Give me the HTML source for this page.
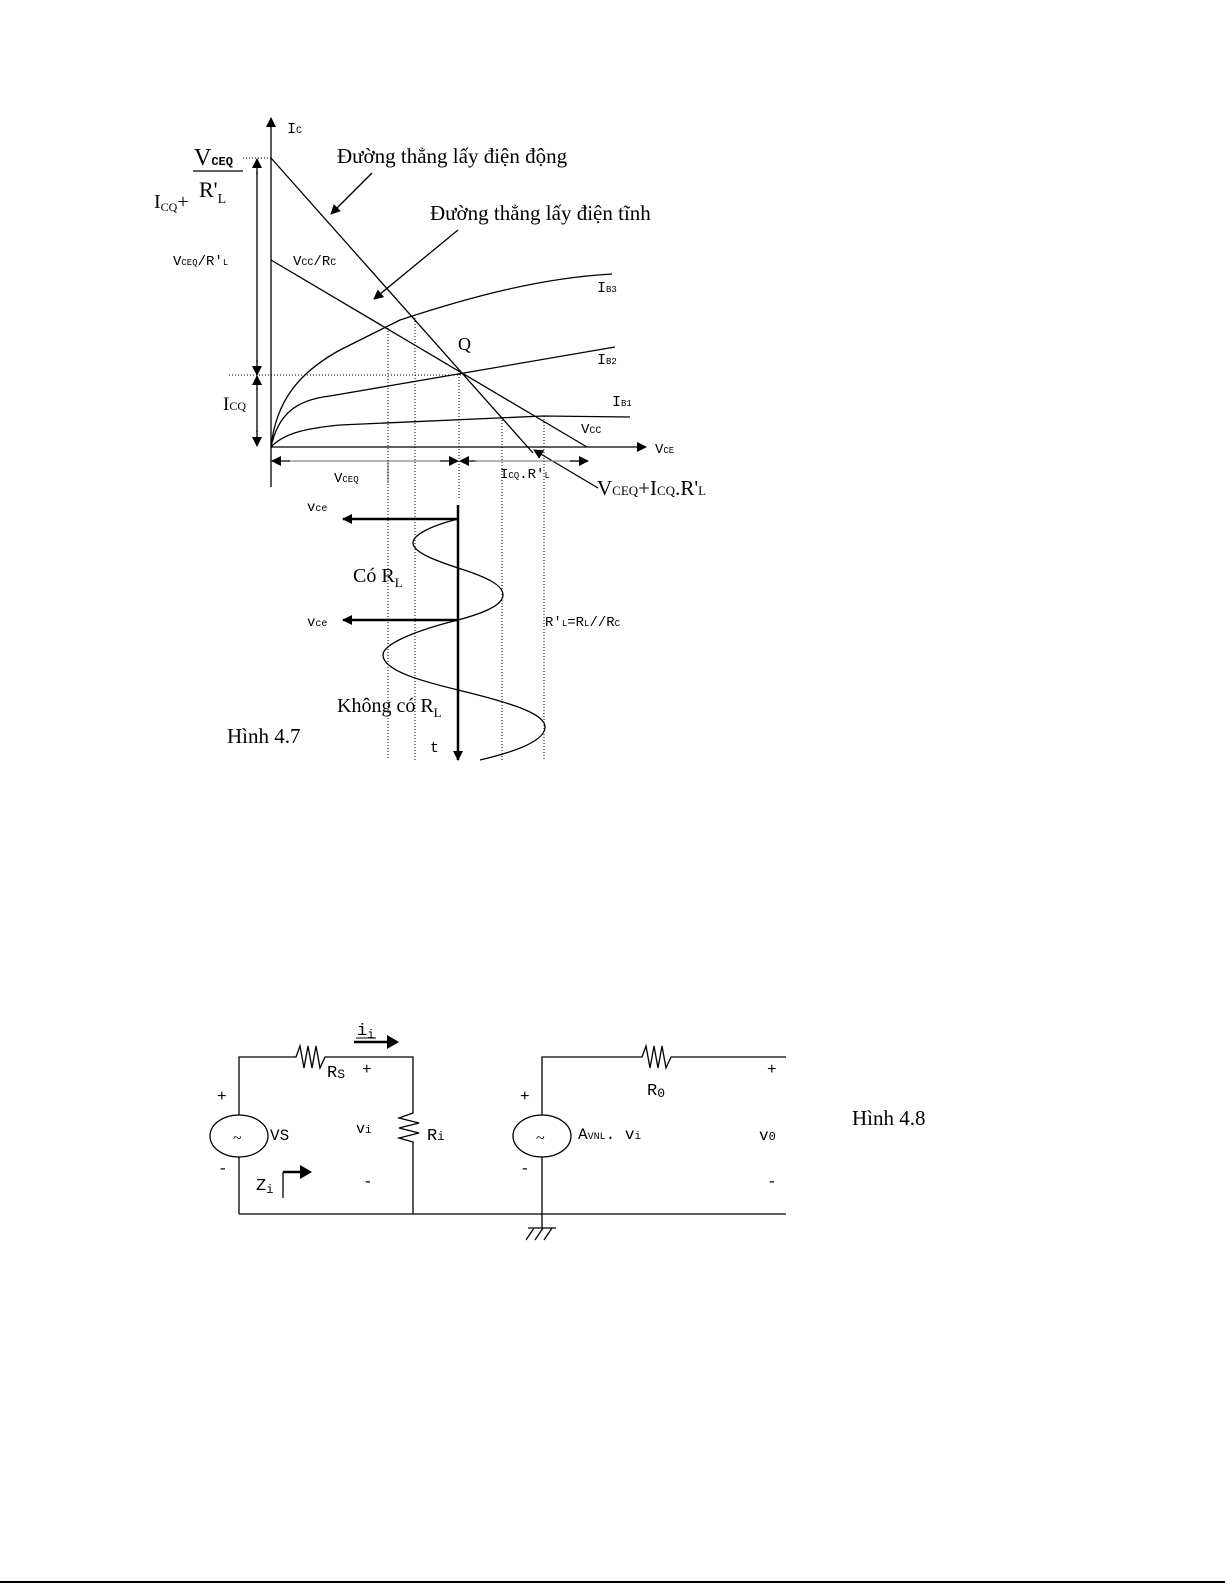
<!DOCTYPE html>
<html><head><meta charset="utf-8"><style>
body{margin:0;background:#fff}
svg{display:block}
text{font-family:"Liberation Serif",serif;fill:#000}
.m{font-family:"Liberation Mono",monospace}
</style></head><body>
<svg width="1225" height="1585" viewBox="0 0 1225 1585" xmlns="http://www.w3.org/2000/svg">
<defs>
<marker id="a" markerWidth="10" markerHeight="10" refX="9" refY="5" orient="auto" markerUnits="userSpaceOnUse"><path d="M0,0 L10,5 L0,10 z" fill="#000"/></marker>
</defs>
<g stroke="#000" fill="none" stroke-width="1.3">
<line x1="271" y1="487" x2="271" y2="118" marker-end="url(#a)"/>
<line x1="271" y1="447" x2="646" y2="447" marker-end="url(#a)"/>
<line x1="271" y1="158" x2="533" y2="453"/>
<line x1="271" y1="260" x2="587" y2="447"/>
<path d="M271,447 C276,400 300,372 340,350 L400,320 C470,297 540,278 612,274"/>
<path d="M271,447 C278,415 295,400 330,396 L615,347"/>
<path d="M271,447 C285,432 310,428 340,425 L543,416 L630,417"/>
<line x1="372" y1="173" x2="331" y2="214" marker-end="url(#a)"/>
<line x1="458" y1="230" x2="374" y2="299" marker-end="url(#a)"/>
<line x1="598" y1="488" x2="534" y2="450" marker-end="url(#a)"/>
<line x1="257" y1="172" x2="257" y2="362"/>
<line x1="257" y1="388" x2="257" y2="432"/>
<line x1="257" y1="175" x2="257" y2="159" marker-end="url(#a)"/>
<line x1="257" y1="360" x2="257" y2="375" marker-end="url(#a)"/>
<line x1="257" y1="390" x2="257" y2="376" marker-end="url(#a)"/>
<line x1="257" y1="430" x2="257" y2="446" marker-end="url(#a)"/>
<line x1="288" y1="461" x2="440" y2="461" stroke="#888"/>
<line x1="290" y1="461" x2="272" y2="461" marker-end="url(#a)"/>
<line x1="440" y1="461" x2="458" y2="461" marker-end="url(#a)"/>
<line x1="478" y1="461" x2="460" y2="461" marker-end="url(#a)"/>
<line x1="475" y1="461" x2="588" y2="461" stroke="#888"/>
<line x1="570" y1="461" x2="588" y2="461" marker-end="url(#a)"/>
<line x1="388" y1="461" x2="388" y2="483" stroke="#888"/>
<line x1="458" y1="505" x2="458" y2="760" stroke-width="2.5" marker-end="url(#a)"/>
<line x1="458" y1="519" x2="343" y2="519" stroke-width="2.5" marker-end="url(#a)"/>
<line x1="458" y1="620" x2="343" y2="620" stroke-width="2.5" marker-end="url(#a)"/>
<path d="M458,519 C430,526 413,535 413,543 C413,553 440,562 458,568 C490,578 503,586 503,595 C503,606 480,614 458,620 C410,632 383,645 383,655 C383,672 430,683 458,690 C520,705 545,715 545,727 C545,742 510,753 480,760"/>
</g>
<g stroke="#000" stroke-width="1" stroke-dasharray="1,2" fill="none">
<line x1="243" y1="158" x2="271" y2="158"/>
<line x1="229" y1="375" x2="463" y2="375"/>
<line x1="388" y1="328" x2="388" y2="760"/>
<line x1="415" y1="318" x2="415" y2="760"/>
<line x1="459" y1="374" x2="459" y2="500"/>
<line x1="502" y1="417" x2="502" y2="760"/>
<line x1="544" y1="416" x2="544" y2="760"/>
</g>
<line x1="193" y1="171" x2="243" y2="171" stroke="#000" stroke-width="1.3"/>
<text x="287" y="133" class="m" font-size="15">I<tspan font-size="10">C</tspan></text>
<text x="194" y="165" font-size="24">V<tspan font-size="12" font-weight="bold" class="m">CEQ</tspan></text>
<text x="199" y="197" font-size="22">R'<tspan font-size="14" dy="6">L</tspan></text>
<text x="154" y="208" font-size="20">I<tspan font-size="12" dy="3">CQ</tspan><tspan dy="-3">+</tspan></text>
<text x="337" y="163" font-size="21">Đường thẳng lấy điện động</text>
<text x="430" y="220" font-size="21">Đường thẳng lấy điện tĩnh</text>
<text x="173" y="265" class="m" font-size="14">V<tspan font-size="9">CEQ</tspan>/R'<tspan font-size="9">L</tspan></text>
<text x="293" y="265" class="m" font-size="14">V<tspan font-size="10">CC</tspan>/R<tspan font-size="10">C</tspan></text>
<text x="597" y="292" class="m" font-size="15">I<tspan font-size="9">B3</tspan></text>
<text x="597" y="364" class="m" font-size="15">I<tspan font-size="9">B2</tspan></text>
<text x="612" y="406" class="m" font-size="15">I<tspan font-size="9">B1</tspan></text>
<text x="458" y="350" font-size="18">Q</text>
<text x="223" y="410" font-size="19">I<tspan font-size="12">CQ</tspan></text>
<text x="581" y="433" class="m" font-size="14">V<tspan font-size="10">CC</tspan></text>
<text x="655" y="453" class="m" font-size="14">V<tspan font-size="9">CE</tspan></text>
<text x="334" y="482" class="m" font-size="14">V<tspan font-size="9">CEQ</tspan></text>
<text x="500" y="478" class="m" font-size="14">I<tspan font-size="9">CQ</tspan>.R'<tspan font-size="9">L</tspan></text>
<text x="597" y="495" font-size="21">V<tspan font-size="13">CEQ</tspan>+I<tspan font-size="13">CQ</tspan>.R'<tspan font-size="13">L</tspan></text>
<text x="307" y="511" class="m" font-size="14">v<tspan font-size="10">ce</tspan></text>
<text x="307" y="626" class="m" font-size="14">v<tspan font-size="10">ce</tspan></text>
<text x="353" y="582" font-size="20">Có R<tspan font-size="13" dy="5">L</tspan></text>
<text x="545" y="626" class="m" font-size="14">R'<tspan font-size="9">L</tspan>=R<tspan font-size="9">L</tspan>//R<tspan font-size="9">C</tspan></text>
<text x="337" y="712" font-size="20">Không có R<tspan font-size="13" dy="5">L</tspan></text>
<text x="227" y="743" font-size="21">Hình 4.7</text>
<text x="430" y="752" class="m" font-size="15">t</text>

<g stroke="#000" fill="none" stroke-width="1.3">
<polyline points="239,1115 239,1057 296,1057 300,1046 304,1068 308,1046 312,1068 316,1046 320,1068 325,1057 413,1057 413,1113 399,1118 419,1123 399,1128 419,1133 399,1138 413,1142 413,1214"/>
<line x1="239" y1="1157" x2="239" y2="1214"/>
<line x1="239" y1="1214" x2="786" y2="1214"/>
<ellipse cx="239" cy="1136" rx="29" ry="21"/>
<ellipse cx="542" cy="1136" rx="29" ry="21"/>
<polyline points="542,1115 542,1057 642,1057 646,1046 650,1068 654,1046 658,1068 662,1046 666,1068 671,1057 786,1057"/>
<line x1="542" y1="1157" x2="542" y2="1228"/>
<line x1="528" y1="1228" x2="556" y2="1228"/>
<line x1="534" y1="1228" x2="526" y2="1240"/>
<line x1="543" y1="1228" x2="535" y2="1240"/>
<line x1="552" y1="1228" x2="544" y2="1240"/>
<line x1="283" y1="1198" x2="283" y2="1172"/>
<line x1="283" y1="1172" x2="302" y2="1172" stroke-width="2.5"/>
<line x1="354" y1="1042" x2="388" y2="1042" stroke-width="2.5"/>
</g>
<path d="M387,1035 L399,1042 L387,1049z"/>
<path d="M300,1165 L312,1172 L300,1179z"/>
<text x="233" y="1143" font-size="16">~</text>
<text x="536" y="1143" font-size="16">~</text>
<text x="357" y="1035" class="m" font-size="17">i<tspan font-size="12" dy="3">i</tspan></text>
<line x1="356" y1="1038" x2="376" y2="1038" stroke="#000" stroke-width="1"/>
<text x="327" y="1077" class="m" font-size="17">R<tspan font-size="13" dy="1">S</tspan></text>
<text x="362" y="1074" class="m" font-size="16">+</text>
<text x="217" y="1101" class="m" font-size="16">+</text>
<text x="270" y="1140" class="m" font-size="16">VS</text>
<text x="356" y="1133" class="m" font-size="15">v<tspan font-size="11">i</tspan></text>
<text x="427" y="1140" class="m" font-size="17">R<tspan font-size="12">i</tspan></text>
<text x="218" y="1173" class="m" font-size="16">-</text>
<text x="256" y="1190" class="m" font-size="17">Z<tspan font-size="12" dy="3">i</tspan></text>
<text x="363" y="1186" class="m" font-size="16">-</text>
<text x="520" y="1101" class="m" font-size="16">+</text>
<text x="520" y="1173" class="m" font-size="16">-</text>
<text x="578" y="1139" class="m" font-size="16">A<tspan font-size="10">VNL</tspan>. v<tspan font-size="11">i</tspan></text>
<text x="647" y="1095" class="m" font-size="17">R<tspan font-size="13" dy="2">0</tspan></text>
<text x="767" y="1074" class="m" font-size="16">+</text>
<text x="759" y="1140" class="m" font-size="16">v<tspan font-size="12">0</tspan></text>
<text x="767" y="1186" class="m" font-size="16">-</text>
<text x="852" y="1125" font-size="21">Hình 4.8</text>
<line x1="0" y1="1582" x2="1225" y2="1582" stroke="#000" stroke-width="2"/>
</svg>
</body></html>
